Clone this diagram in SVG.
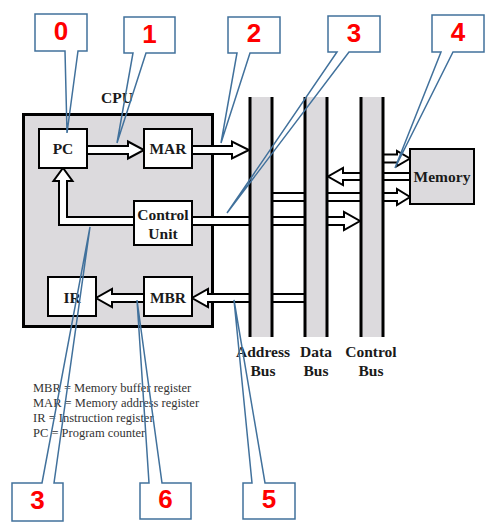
<svg xmlns="http://www.w3.org/2000/svg" width="493" height="530" viewBox="0 0 493 530">
<style>
.bg{fill:#ffffff}
.cpu{fill:#dcdadd;stroke:#000;stroke-width:3}
.box{fill:#ffffff;stroke:#000;stroke-width:2}
.mem{fill:#dcdadd;stroke:#000;stroke-width:2}
.arr{fill:#ffffff;stroke:#000;stroke-width:2;stroke-linejoin:miter}
.busfill{fill:#dcdadd;stroke:none}
.busline{stroke:#000;stroke-width:3}
.lbl{font-family:"Liberation Serif","Times New Roman",serif;font-weight:bold;font-size:15.5px;fill:#1a1a1a;text-anchor:middle}
.leg{font-family:"Liberation Serif","Times New Roman",serif;font-size:12.5px;fill:#333}
.cfill{fill:#ffffff;stroke:none}
.call{fill:none;stroke:#41719c;stroke-width:1.5;stroke-linejoin:miter}
.num{font-family:"Liberation Sans",Arial,sans-serif;font-weight:bold;font-size:26px;fill:#ff0000;text-anchor:middle}
</style>
<rect class="bg" x="0" y="0" width="493" height="530"/>

<g id="cpu">
<rect class="cpu" x="23.5" y="114.5" width="189" height="212"/>
<text class="lbl" x="117" y="103">CPU</text>
</g>

<g id="connectors">
<polygon class="arr" points="87,146 128,146 128,141.5 144,150 128,158.5 128,154 87,154"/>
<polygon class="arr" points="192,146 232,146 232,141.5 249,150 232,158.5 232,154 192,154"/>
<path class="arr" d="M134,217 H67 V181 H72.5 L63,168 L53.5,181 H59 V225 H134 Z"/>
<polygon class="arr" points="192,217 344,217 344,212 360,221 344,230 344,225 192,225"/>
<polygon class="arr" points="305,294 208,294 208,289 192,298 208,307 208,302 305,302"/>
<polygon class="arr" points="144,294 112,294 112,289 96,298 112,307 112,302 144,302"/>
<polygon class="arr" points="383,154.5 397,154.5 397,151 410,158.5 397,166 397,162.5 383,162.5"/>
<polygon class="arr" points="410,173 343,173 343,168 328,176.5 343,185 343,180 410,180"/>
<polygon class="arr" points="272,193 397,193 397,189 410,197 397,205 397,201 272,201"/>
</g>

<g id="address-bus">
<rect class="busfill" x="250" y="97" width="22" height="240"/>
<line class="busline" x1="250" y1="97" x2="250" y2="337"/>
<line class="busline" x1="272" y1="97" x2="272" y2="337"/>
<text class="lbl" x="263" y="356.5">Address</text>
<text class="lbl" x="263" y="375.5">Bus</text>
</g>
<g id="data-bus">
<rect class="busfill" x="305" y="97" width="22" height="240"/>
<line class="busline" x1="305" y1="97" x2="305" y2="337"/>
<line class="busline" x1="327" y1="97" x2="327" y2="337"/>
<text class="lbl" x="316" y="356.5">Data</text>
<text class="lbl" x="316" y="375.5">Bus</text>
</g>
<g id="control-bus">
<rect class="busfill" x="361" y="97" width="22" height="240"/>
<line class="busline" x1="361" y1="97" x2="361" y2="337"/>
<line class="busline" x1="383" y1="97" x2="383" y2="337"/>
<text class="lbl" x="371" y="356.5">Control</text>
<text class="lbl" x="371" y="375.5">Bus</text>
</g>

<g id="memory">
<rect class="mem" x="410" y="149" width="64" height="55"/>
<text class="lbl" x="442" y="181.5">Memory</text>
</g>
<g id="pc">
<rect class="box" x="39" y="129" width="48" height="39"/>
<text class="lbl" x="63" y="154">PC</text>
</g>
<g id="mar">
<rect class="box" x="144" y="129" width="48" height="39"/>
<text class="lbl" x="168" y="154">MAR</text>
</g>
<g id="control-unit">
<rect class="box" x="134" y="201" width="58" height="44"/>
<text class="lbl" x="163" y="220">Control</text>
<text class="lbl" x="163" y="239">Unit</text>
</g>
<g id="ir">
<rect class="box" x="48" y="277" width="48" height="39"/>
<text class="lbl" x="72" y="302.5">IR</text>
</g>
<g id="mbr">
<rect class="box" x="144" y="277" width="48" height="39"/>
<text class="lbl" x="168" y="302.5">MBR</text>
</g>

<g id="legend">
<text class="leg" x="33" y="392">MBR = Memory buffer register</text>
<text class="leg" x="33" y="407">MAR = Memory address register</text>
<text class="leg" x="33" y="422">IR = Instruction register</text>
<text class="leg" x="33" y="437">PC = Program counter</text>
</g>

<g id="callout-0">
<rect class="cfill" x="35" y="14" width="52" height="37"/>
<path class="call" d="M35,14 H87 V51 H78 L67,133 L65,51 H35 Z"/>
<text class="num" x="61" y="40">0</text>
</g>
<g id="callout-1">
<rect class="cfill" x="124" y="17" width="51" height="36"/>
<path class="call" d="M124,17 H175 V53 H146 L117,143 L133,53 H124 Z"/>
<text class="num" x="149.5" y="43">1</text>
</g>
<g id="callout-2">
<rect class="cfill" x="228" y="17" width="52" height="36"/>
<path class="call" d="M228,17 H280 V53 H250 L221,143 L237,53 H228 Z"/>
<text class="num" x="254" y="42">2</text>
</g>
<g id="callout-3-top">
<rect class="cfill" x="328" y="16" width="52" height="36"/>
<path class="call" d="M328,16 H380 V52 H349 L227,213 L337,52 H328 Z"/>
<text class="num" x="354" y="42">3</text>
</g>
<g id="callout-4">
<rect class="cfill" x="432" y="15" width="52" height="37"/>
<path class="call" d="M432,15 H484 V52 H453 L395,168 L441,52 H432 Z"/>
<text class="num" x="458" y="41">4</text>
</g>
<g id="callout-3-bottom">
<rect class="cfill" x="12" y="483" width="51" height="38"/>
<path class="call" d="M12,483 H42 L90,227 L54,483 H63 V521 H12 Z"/>
<text class="num" x="37.5" y="509">3</text>
</g>
<g id="callout-6">
<rect class="cfill" x="140" y="483" width="51" height="36"/>
<path class="call" d="M140,483 H149 L137,300 L162,483 H191 V519 H140 Z"/>
<text class="num" x="165.5" y="508">6</text>
</g>
<g id="callout-5">
<rect class="cfill" x="243" y="483" width="52" height="36"/>
<path class="call" d="M243,483 H252 L234,300 L265,483 H295 V519 H243 Z"/>
<text class="num" x="269" y="508">5</text>
</g>
</svg>
